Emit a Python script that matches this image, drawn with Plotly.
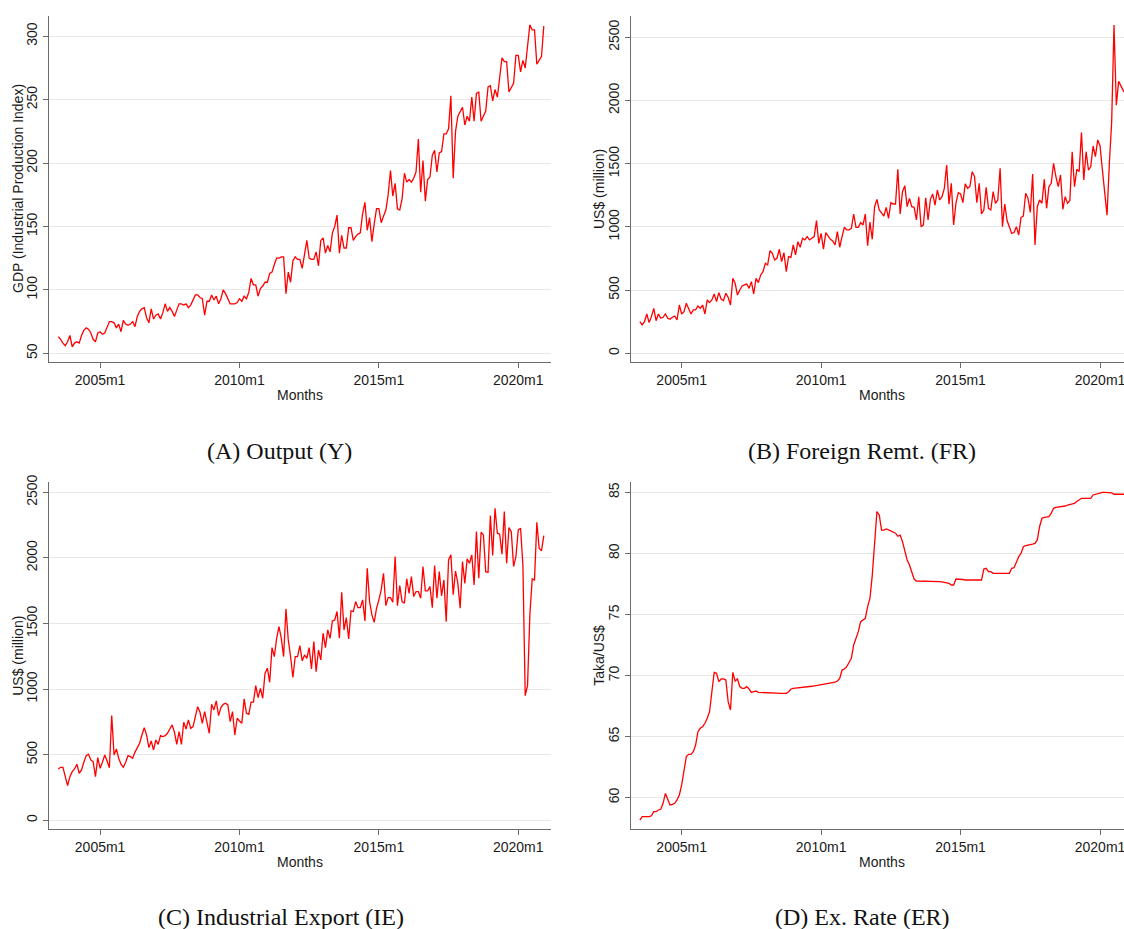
import plotly.graph_objects as go

# Monthly sample 2003m7 .. 2020m12, indexed Stata-style (months since 1960m1)
START_YEAR, START_MONTH = 2003, 7
N_MONTHS = 210
t0 = (START_YEAR - 1960) * 12 + (START_MONTH - 1)
months = [t0 + i for i in range(N_MONTHS)]

tick_vals = [540, 600, 660, 720]
tick_text = ["2005m1", "2010m1", "2015m1", "2020m1"]

# (A) Output: industrial production index
output_y = [
    63, 61, 58, 56, 59, 64,
    55, 58, 59, 58, 64, 68, 70, 69, 66, 61, 59, 66,
    67, 65, 66, 71, 75, 75, 74, 70, 73, 67, 76, 73,
    72, 73, 75, 71, 79, 83, 85, 86, 78, 74, 85, 77,
    80, 81, 77, 82, 89, 83, 86, 83, 79, 84, 89, 89,
    88, 89, 86, 88, 92, 96, 96, 94, 93, 80, 91, 91,
    96, 92, 95, 89, 93, 100, 97, 93, 89, 89, 89, 90,
    93, 91, 95, 93, 98, 109, 104, 104, 95, 101, 103, 106,
    106, 113, 114, 120, 125, 125, 126, 126, 97, 114, 106, 123,
    126, 124, 124, 117, 128, 139, 125, 124, 124, 130, 119, 139,
    141, 129, 135, 130, 145, 150, 159, 129, 143, 133, 133, 149,
    149, 139, 142, 144, 145, 160, 169, 147, 157, 138, 152, 164,
    164, 153, 158, 163, 175, 194, 174, 184, 164, 163, 172, 192,
    185, 187, 185, 188, 193, 219, 177, 202, 170, 187, 189, 206,
    210, 193, 208, 209, 223, 223, 227, 253, 188, 225, 237, 240,
    244, 230, 237, 233, 252, 233, 255, 256, 233, 237, 241, 260,
    261, 249, 258, 252, 268, 283, 280, 280, 256, 259, 263, 285,
    285, 272, 281, 275, 292, 309, 305, 305, 278, 281, 284, 308,
]

# (B) Foreign remittances, US$ million
remit_fr = [
    250, 224, 250, 311, 243, 290,
    356, 258, 311, 277, 285, 311, 277, 269, 285, 295, 264, 382,
    311, 330, 396, 356, 311, 343, 343, 374, 356, 382, 311, 422,
    401, 422, 469, 409, 480, 427, 417, 475, 443, 382, 593, 554,
    461, 501, 533, 541, 548, 514, 567, 469, 593, 559, 620, 646,
    712, 699, 812, 791, 738, 752, 823, 725, 796, 646, 765, 759,
    857, 778, 883, 839, 910, 897, 923, 897, 910, 923, 1050, 870,
    949, 823, 955, 923, 902, 889, 857, 962, 839, 923, 997, 976,
    976, 989, 1102, 997, 997, 1034, 1015, 1102, 852, 1039, 902, 1160,
    1218, 1134, 1113, 1086, 1155, 1068, 1192, 1181, 1181, 1456, 1102, 1279,
    1326, 1160, 1226, 1160, 1155, 1055, 1239, 1002, 1015, 1231, 1055, 1218,
    1260, 1173, 1292, 1213, 1239, 1305, 1490, 1179, 1345, 1015, 1187, 1271,
    1260, 1192, 1340, 1305, 1318, 1437, 1398, 1192, 1345, 1102, 1134, 1313,
    1147, 1134, 1279, 1187, 1213, 1464, 1002, 1181, 1050, 1002, 949, 955,
    1002, 936, 1076, 1086, 1266, 1226, 1115, 1419, 857, 1160, 1213, 1187,
    1376, 1147, 1318, 1345, 1503, 1398, 1318, 1411, 1139, 1239, 1187, 1208,
    1595, 1318, 1456, 1437, 1746, 1371, 1595, 1450, 1477, 1640, 1556, 1688,
    1640, 1452, 1290, 1093, 1504, 1832, 2598, 1962, 2151, 2112, 2078, 2052,
]

# (C) Industrial exports, US$ million
export_ie = [
    391, 404, 404, 333, 264, 333,
    371, 391, 427, 358, 384, 442, 493, 503, 460, 447, 333, 478,
    396, 442, 498, 452, 401, 798, 498, 544, 473, 427, 404, 442,
    493, 485, 473, 518, 554, 587, 650, 706, 650, 554, 605, 536,
    612, 579, 645, 638, 645, 663, 696, 727, 671, 579, 676, 579,
    747, 696, 765, 701, 714, 783, 866, 823, 739, 828, 739, 663,
    884, 841, 910, 798, 859, 884, 892, 879, 752, 828, 650, 778,
    757, 739, 925, 816, 808, 900, 900, 1027, 935, 1006, 930, 1121,
    1159, 1052, 1316, 1248, 1387, 1476, 1387, 1248, 1611, 1375, 1248, 1088,
    1248, 1248, 1331, 1215, 1260, 1235, 1316, 1154, 1362, 1133, 1298, 1222,
    1426, 1316, 1451, 1387, 1519, 1527, 1591, 1387, 1738, 1451, 1545, 1382,
    1596, 1591, 1667, 1621, 1621, 1680, 1519, 1921, 1667, 1565, 1509, 1616,
    1680, 1756, 1883, 1636, 1697, 1697, 1662, 2010, 1636, 1789, 1667, 1654,
    1840, 1730, 1857, 1705, 1743, 1743, 1692, 1934, 1748, 1748, 1781, 1621,
    1941, 1692, 1895, 1710, 1832, 1514, 1984, 2023, 1720, 1900, 1806, 1616,
    1972, 1806, 1992, 1959, 2023, 1794, 2200, 1845, 2195, 2175, 1895, 1890,
    2322, 2018, 2378, 2188, 2180, 2028, 2353, 1959, 2231, 2200, 1934, 2010,
    2213, 2226, 1946, 950, 1027, 1565, 1840, 1832, 2272, 2073, 2053, 2170,
]

# (D) Exchange rate, Taka per US$
exrate_er = [
    58.17, 58.44, 58.44, 58.44, 58.44, 58.52,
    58.85, 58.85, 58.99, 59.05, 59.54, 60.35, 59.81, 59.40, 59.45, 59.54, 59.81, 60.22,
    61.04, 62.40, 63.36, 63.55, 63.55, 63.77, 64.31, 65.40, 65.68, 65.81, 66.09, 66.50,
    67.04, 68.68, 70.26, 70.18, 69.50, 69.72, 69.72, 69.63, 67.86, 67.18, 70.26, 69.55,
    69.72, 69.09, 68.95, 68.95, 69.09, 68.90, 68.62, 68.68, 68.73, 68.62, 68.62, 68.62,
    68.62, 68.62, 68.60, 68.60, 68.58, 68.56, 68.54, 68.54, 68.54, 68.54, 68.68, 68.90,
    68.95, 68.98, 69.01, 69.03, 69.06, 69.08, 69.09, 69.10, 69.12, 69.15, 69.17, 69.20,
    69.25, 69.28, 69.30, 69.33, 69.36, 69.40, 69.45, 69.55, 69.77, 70.45, 70.53, 70.72,
    71.13, 71.41, 72.50, 73.04, 73.59, 74.41, 74.55, 74.68, 75.64, 76.32, 78.20, 81.00,
    83.42, 83.15, 81.91, 81.91, 82.00, 81.92, 81.83, 81.78, 81.65, 81.40, 81.50, 80.96,
    80.28, 79.46, 79.05, 78.37, 77.90, 77.74, 77.74, 77.74, 77.74, 77.74, 77.74, 77.74,
    77.74, 77.74, 77.72, 77.68, 77.66, 77.63, 77.58, 77.55, 77.41, 77.41, 77.90, 77.90,
    77.90, 77.86, 77.82, 77.82, 77.82, 77.82, 77.82, 77.82, 77.82, 77.82, 78.72, 78.78,
    78.50, 78.50, 78.37, 78.37, 78.37, 78.37, 78.37, 78.37, 78.37, 78.37, 78.78, 78.83,
    79.27, 79.73, 80.00, 80.55, 80.63, 80.66, 80.69, 80.75, 80.82, 81.10, 82.20, 82.87,
    82.95, 83.01, 83.01, 83.30, 83.69, 83.77, 83.80, 83.82, 83.83, 83.88, 83.96, 84.00,
    84.02, 84.10, 84.24, 84.40, 84.51, 84.51, 84.51, 84.51, 84.51, 84.78, 84.85, 84.92,
    84.95, 85.00, 85.00, 85.00, 85.00, 84.95, 84.84, 84.84, 84.84, 84.84, 84.84, 84.84,
]

W, H = 1124, 929
SANS = "Liberation Sans, Arial, sans-serif"
SERIF = "Liberation Serif, Times New Roman, serif"
AXIS_GREY = "#6b6b6b"
GRID_GREY = "#e8e8e8"
LINE_RED = "#ff0000"
TEXT = "#1a1a1a"


def px_x(p):
    return p / W


def px_y(p):
    return (H - p) / H


panels = [
    dict(y=output_y, yr=[43.1, 316.0], yt=[50, 100, 150, 200, 250, 300],
         title="GDP (Industrial Production Index)", xd=(48.7, 551.0), yd=(16.0, 362.0),
         xr=[517.87, 734.1], cap="(A) Output (Y)", cap_x=279, cap_y=451,
         ytitle_x=18, months_x=300, months_y=395),
    dict(y=remit_fr, yr=[-68.8, 2668.5], yt=[0, 500, 1000, 1500, 2000, 2500],
         title="US$ (million)", xd=(631.0, 1124.0), yd=(16.0, 362.0),
         xr=[518.2, 730.3], cap="(B) Foreign Remt. (FR)", cap_x=862, cap_y=451,
         ytitle_x=599, months_x=882, months_y=395),
    dict(y=export_ie, yr=[-68.6, 2576.0], yt=[0, 500, 1000, 1500, 2000, 2500],
         title="US$ (million)", xd=(48.7, 551.0), yd=(482.3, 829.3),
         xr=[517.87, 734.1], cap="(C) Industrial Export (IE)", cap_x=281, cap_y=917,
         ytitle_x=18, months_x=300, months_y=862),
    dict(y=exrate_er, yr=[57.41, 85.82], yt=[60, 65, 70, 75, 80, 85],
         title="Taka/US$", xd=(631.0, 1124.0), yd=(482.3, 829.3),
         xr=[518.2, 730.3], cap="(D) Ex. Rate (ER)", cap_x=862, cap_y=917,
         ytitle_x=599, months_x=882, months_y=862),
]

fig = go.Figure()
annotations = []
layout = dict(
    width=W, height=H,
    margin=dict(l=0, r=0, t=0, b=0, pad=0),
    paper_bgcolor="white", plot_bgcolor="white",
    showlegend=False,
    font=dict(family=SANS, size=14, color=TEXT),
)

for i, p in enumerate(panels, start=1):
    xa = "x" if i == 1 else f"x{i}"
    ya = "y" if i == 1 else f"y{i}"
    fig.add_trace(go.Scatter(
        x=months, y=p["y"], mode="lines", xaxis=xa, yaxis=ya,
        line=dict(color=LINE_RED, width=1.3), hoverinfo="skip",
    ))
    layout[f"xaxis{'' if i == 1 else i}"] = dict(
        domain=[px_x(p["xd"][0]), px_x(p["xd"][1])], anchor=ya,
        range=p["xr"], tickmode="array", tickvals=tick_vals, ticktext=tick_text,
        showgrid=False, zeroline=False, showline=True, linecolor=AXIS_GREY,
        linewidth=1.3, ticks="outside", ticklen=5, tickcolor=AXIS_GREY,
        automargin=False, ticklabeloverflow="allow",
        tickfont=dict(family=SANS, size=14, color=TEXT),
    )
    layout[f"yaxis{'' if i == 1 else i}"] = dict(
        domain=[px_y(p["yd"][1]), px_y(p["yd"][0])], anchor=xa,
        range=p["yr"], tickmode="array", tickvals=p["yt"],
        ticktext=[str(v) for v in p["yt"]], tickangle=-90,
        showgrid=True, gridcolor=GRID_GREY, gridwidth=1,
        zeroline=False, showline=True, linecolor=AXIS_GREY, linewidth=1.3,
        ticks="outside", ticklen=5, tickcolor=AXIS_GREY,
        automargin=False, ticklabeloverflow="allow",
        tickfont=dict(family=SANS, size=14, color=TEXT),
    )
    annotations.append(dict(
        text=p["title"], x=px_x(p["ytitle_x"]), y=px_y(sum(p["yd"]) / 2),
        xref="paper", yref="paper", showarrow=False, textangle=-90,
        xanchor="center", yanchor="middle",
        font=dict(family=SANS, size=14, color=TEXT),
    ))
    annotations.append(dict(
        text="Months", x=px_x(p["months_x"]), y=px_y(p["months_y"]),
        xref="paper", yref="paper", showarrow=False,
        xanchor="center", yanchor="middle",
        font=dict(family=SANS, size=14, color=TEXT),
    ))
    annotations.append(dict(
        text=p["cap"], x=px_x(p["cap_x"]), y=px_y(p["cap_y"]),
        xref="paper", yref="paper", showarrow=False,
        xanchor="center", yanchor="middle",
        font=dict(family=SERIF, size=24, color="#111111"),
    ))

layout["annotations"] = annotations
fig.update_layout(**layout)
fig.write_html("out.html")
